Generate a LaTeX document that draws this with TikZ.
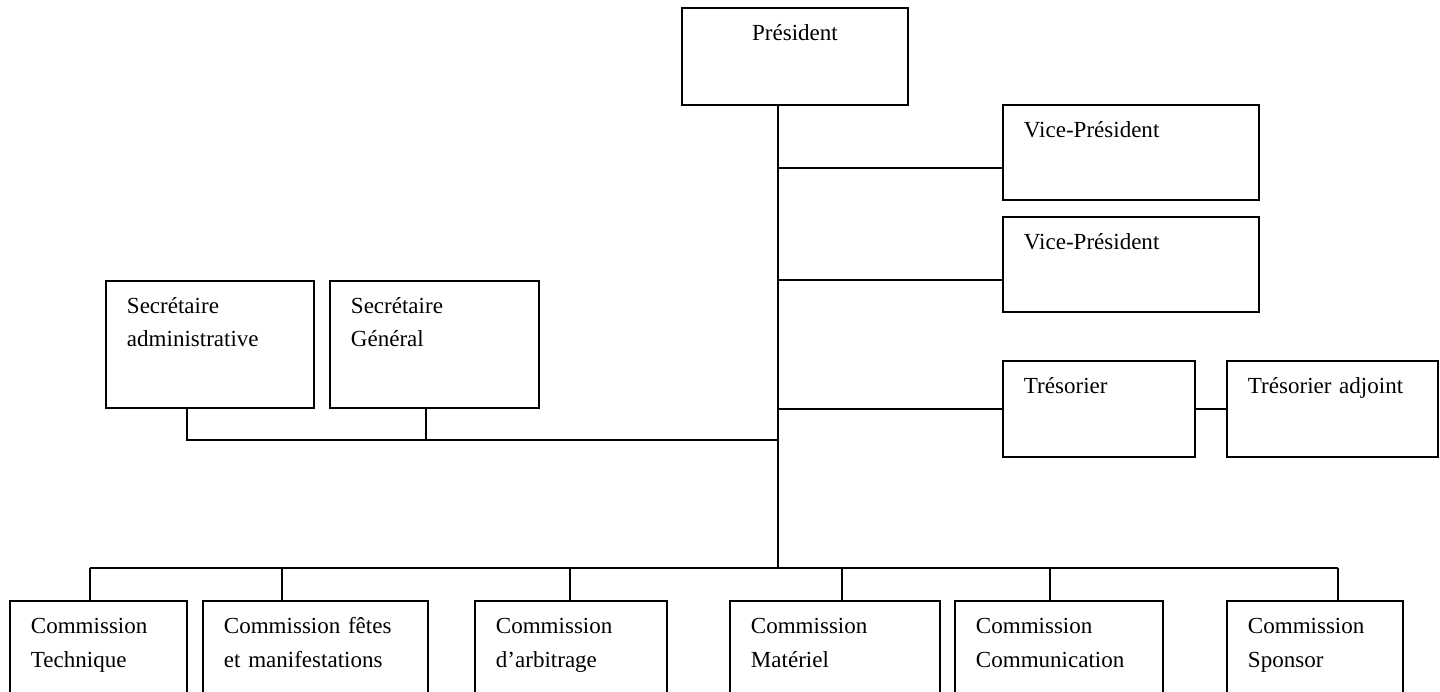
\documentclass[tikz,border=0pt]{standalone}
\usepackage{fontspec}
\setmainfont{Liberation Serif}

\begin{document}
\begin{tikzpicture}[
  poste/.style={draw, line width=1.1pt, anchor=north west, align=left,
    inner xsep=0.42cm, inner ysep=0pt, text height=0.66cm,
    font=\fontsize{13.1}{18.8}\selectfont},
  lien/.style={line width=1.1pt}]
  \useasboundingbox (0,0) rectangle (28.8,-13.84);
  \clip (0,0) rectangle (28.8,-13.84);
  \node(pres)[poste, align=center, text width=3.68cm, text depth=1.28cm] at (13.62,-0.14) {Président};
  \node(vp1)[poste, text width=4.28cm, text depth=1.24cm] at (20.04,-2.08) {Vice-Président};
  \node(vp2)[poste, text width=4.28cm, text depth=1.24cm] at (20.04,-4.32) {Vice-Président};
  \node(tres)[poste, text width=3.0cm, text depth=1.26cm] at (20.04,-7.2) {Trésorier};
  \node(adj)[poste, text width=3.38cm, text depth=1.26cm] at (24.52,-7.2) {Trésorier adjoint};
  \node(sadm)[poste, text width=3.32cm, text depth=1.88cm] at (2.1,-5.6) {Secrétaire\\administrative};
  \node(sgen)[poste, text width=3.34cm, text depth=1.88cm] at (6.58,-5.6) {Secrétaire\\Général};
  \node(c1)[poste, text width=2.70cm, text depth=1.54cm] at (0.18,-12) {Commission\\Technique};
  \node(c2)[poste, text width=3.66cm, text depth=1.54cm] at (4.04,-12) {Commission fêtes\\et manifestations};
  \node(c3)[poste, text width=3.0cm, text depth=1.54cm] at (9.48,-12) {Commission\\d’arbitrage};
  \node(c4)[poste, text width=3.36cm, text depth=1.54cm] at (14.58,-12) {Commission\\Matériel};
  \node(c5)[poste, text width=3.32cm, text depth=1.54cm] at (19.08,-12) {Commission\\Communication};
  \node(c6)[poste, text width=2.68cm, text depth=1.54cm] at (24.52,-12) {Commission\\Sponsor};
  \coordinate(bas) at (15.56,-11.36);
  \coordinate(t1) at (15.56,-3.36);
  \coordinate(t2) at (15.56,-5.6);
  \coordinate(sa) at (3.74,-8.8);
  \coordinate(sg) at (8.52,-8.8);
  \coordinate(bg) at (1.8,-11.36);
  \coordinate(bd) at (26.76,-11.36);
  \draw[lien] (pres.south -| bas) -- (bas);
  \draw[lien] (t1) -- (t1 -| vp1.west);
  \draw[lien] (t2) -- (t2 -| vp2.west);
  \draw[lien] (tres.west -| bas) -- (tres.west);
  \draw[lien] (tres.east) -- (adj.west);
  \draw[lien] (sa |- sadm.south) -- (sa) -- (sa -| bas);
  \draw[lien] (sg |- sgen.south) -- (sg);
  \draw[lien] (bg) -- (bd);
  \foreach \n/\x in {c1/1.8, c2/5.64, c3/11.4, c4/16.84, c5/21.0, c6/26.76}
    \draw[lien] (\n.north -| \x,-11.36) -- (\x,-11.36);
\end{tikzpicture}
\end{document}
